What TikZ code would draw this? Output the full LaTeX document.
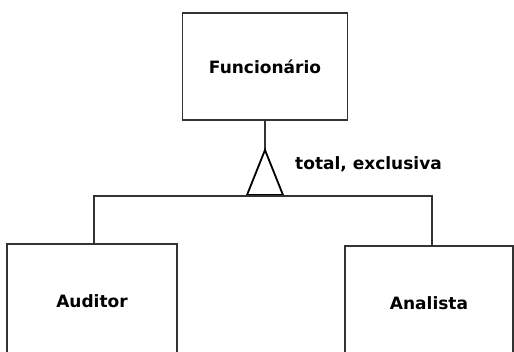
\documentclass[tikz,border=0pt]{standalone}
\usepackage{fontspec}
\setmainfont{DejaVu Sans}
\begin{document}
\begin{tikzpicture}[x=1pt,y=-1pt,
  entity/.style={draw=black!80,line width=1.5pt,inner sep=0pt,font=\bfseries\fontsize{17}{20}\selectfont},
  conn/.style={draw=black!80,line width=1.4pt},
  lbl/.style={font=\bfseries\fontsize{17}{20}\selectfont,inner sep=0pt}]
\useasboundingbox[fill=white] (0,0) rectangle (514,352);
\clip (0,0) rectangle (514,352);
\node[entity,minimum width=165pt,minimum height=107pt] (f) at (265,66.5) {Funcionário};
\node[entity,minimum width=170pt,minimum height=114pt] (a) at (92,301) {Auditor};
\node[entity,minimum width=168pt,minimum height=114pt] (b) at (429,303) {Analista};
\coordinate (apex) at (265,150);
\coordinate (bl) at (247,195);
\coordinate (br) at (283,195);
\coordinate (bar) at (265,196);
\draw[conn] (f.south) -- (apex);
\draw[line width=1.8pt,line join=miter] (apex) -- (bl) -- (br) -- cycle;
\draw[conn] ([xshift=2pt]a.north) |- (bar) -| ([xshift=3pt]b.north);
\node[lbl,anchor=west] (t) at (295,164) {total, exclusiva};
\end{tikzpicture}
\end{document}
